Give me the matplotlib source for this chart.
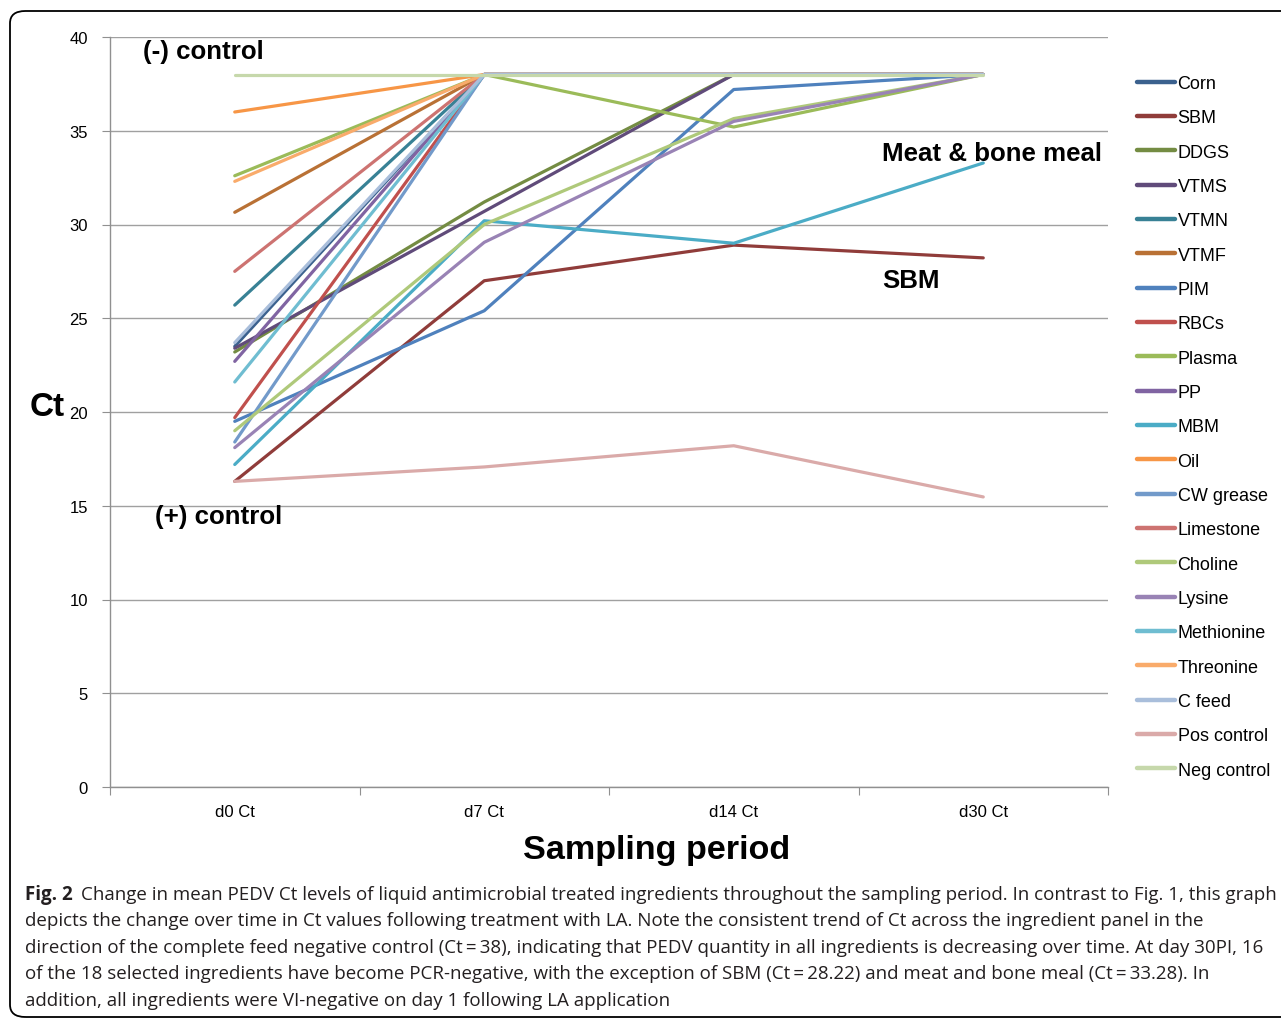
import matplotlib

matplotlib.use("Agg")
import matplotlib.pyplot as plt
from matplotlib.patches import FancyBboxPatch

# --- data ---
periods = ['d0 Ct', 'd7 Ct', 'd14 Ct', 'd30 Ct']
ingredients = ['Corn', 'SBM', 'DDGS', 'VTMS', 'VTMN', 'VTMF', 'PIM', 'RBCs',
               'Plasma', 'PP', 'MBM', 'Oil', 'CW grease', 'Limestone', 'Choline',
               'Lysine', 'Methionine', 'Threonine', 'C feed', 'Pos control',
               'Neg control']
corn = [23.5, 38, 38, 38]
sbm = [16.3, 27.0, 28.9, 28.22]
ddgs = [23.2, 31.2, 38, 38]
vtms = [23.4, 30.7, 38, 38]
vtmn = [25.7, 38, 38, 38]
vtmf = [30.65, 38, 38, 38]
pim = [19.5, 25.4, 37.2, 38]
rbcs = [19.7, 38, 38, 38]
plasma = [32.6, 38, 35.2, 38]
pp = [22.7, 38, 38, 38]
mbm = [17.2, 30.2, 29.0, 33.28]
oil = [36.0, 38, 38, 38]
cw_grease = [18.4, 38, 38, 38]
limestone = [27.5, 38, 38, 38]
choline = [19.0, 30.0, 35.65, 38]
lysine = [18.1, 29.05, 35.5, 38]
methionine = [21.6, 38, 38, 38]
threonine = [32.3, 38, 38, 38]
c_feed = [23.7, 38, 38, 38]
pos_control = [16.3, 17.07, 18.2, 15.47]
neg_control = [38, 38, 38, 38]

series = [corn, sbm, ddgs, vtms, vtmn, vtmf, pim, rbcs, plasma, pp, mbm, oil,
          cw_grease, limestone, choline, lysine, methionine, threonine, c_feed,
          pos_control, neg_control]

# Excel 2007 style palette: dark, base, light, very light
colors = ['#3B618E', '#903C3A', '#748C43', '#604B7A', '#388195', '#B97135',
          '#4F81BD', '#C0504D', '#9BBB59', '#8064A2', '#4BACC6', '#F79646',
          '#729ACA', '#CD7371', '#AFC97A', '#9983B5', '#6FBDD1', '#F9AB6B',
          '#A9BEDB', '#DAAAA9', '#C6D8AB']

caption_lines = [
    "Change in mean PEDV Ct levels of liquid antimicrobial treated ingredients throughout the sampling period. In contrast to Fig. 1, this graph",
    "depicts the change over time in Ct values following treatment with LA. Note the consistent trend of Ct across the ingredient panel in the",
    "direction of the complete feed negative control (Ct\u2009=\u200938), indicating that PEDV quantity in all ingredients is decreasing over time. At day 30PI, 16",
    "of the 18 selected ingredients have become PCR-negative, with the exception of SBM (Ct\u2009=\u200928.22) and meat and bone meal (Ct\u2009=\u200933.28). In",
    "addition, all ingredients were VI-negative on day 1 following LA application",
]

plt.rcParams['font.family'] = ['Liberation Sans', 'DejaVu Sans']

W, H = 1281, 1020
fig = plt.figure(figsize=(W / 100, H / 100), dpi=100)

# rounded frame around the figure panel
frame = FancyBboxPatch((10 / W, 2 / H), 1.2, 1 - 14 / H,
                       boxstyle="round,pad=0,rounding_size=0.012",
                       transform=fig.transFigure, fill=False,
                       edgecolor='black', linewidth=1.3)
fig.patches.append(frame)

ax = fig.add_axes([110 / W, 1 - 788 / H, 998 / W, 750 / H])
x = [i + 0.5 for i in range(len(periods))]
for name, vals, col in zip(ingredients, series, colors):
    ax.plot(x, vals, color=col, linewidth=2.3, label=name,
            solid_capstyle='round', solid_joinstyle='round')

ax.set_xlim(0, 4)
ax.set_ylim(0, 40)
ax.set_yticks(range(0, 41, 5))
ax.yaxis.grid(True, color='#A0A0A0', linewidth=1.0)
ax.set_axisbelow(True)
ax.set_xticks(range(0, 5))
ax.set_xticklabels([])
ax.set_xticks(x, minor=True)
ax.set_xticklabels(periods, minor=True)
ax.tick_params(axis='x', which='major', length=6, color='#909090', direction='out')
ax.tick_params(axis='x', which='minor', length=0, pad=12, labelsize=12)
ax.tick_params(axis='y', length=6, color='#909090', pad=10, labelsize=12)
for s in ['top', 'right']:
    ax.spines[s].set_visible(False)
for s in ['left', 'bottom']:
    ax.spines[s].set_color('#909090')
    ax.spines[s].set_linewidth(1.0)

# annotations
fig.text(143 / W, 1 - 52 / H, '(-) control', fontsize=18.6,
         fontweight='bold', va='center', ha='left')
fig.text(882 / W, 1 - 154 / H, 'Meat & bone meal', fontsize=18.6,
         fontweight='bold', va='center', ha='left')
fig.text(882 / W, 1 - 281 / H, 'SBM', fontsize=18.6, fontweight='bold',
         va='center', ha='left')
fig.text(155 / W, 1 - 517 / H, '(+) control', fontsize=18.6, fontweight='bold',
         va='center', ha='left')
fig.text(30 / W, 1 - 408 / H, 'Ct', fontsize=24, fontweight='bold',
         va='center', ha='left')
fig.text(657 / W, 1 - 851 / H, 'Sampling period', fontsize=24.6,
         fontweight='bold', va='center', ha='center')

leg = ax.legend(loc='upper left', bbox_to_anchor=(1137 / W, 1 - 76 / H),
                bbox_transform=fig.transFigure, frameon=False, fontsize=13,
                handlelength=2.1, handletextpad=0.15, labelspacing=0.96,
                borderpad=0, borderaxespad=0)
for ln in leg.get_lines():
    ln.set_linewidth(3.2)

# caption
cap_font = ['Open Sans', 'DejaVu Sans']
ys = [895, 921, 948, 974, 1001]
for i, (line, yy) in enumerate(zip(caption_lines, ys)):
    if i == 0:
        fig.text(25 / W, 1 - yy / H, 'Fig. 2', fontsize=13.5,
                 fontweight='bold', family=cap_font,
                 va='center', ha='left', color='#231F20')
        fig.text(81 / W, 1 - yy / H, line, fontsize=13.5, family=cap_font,
                 va='center', ha='left', color='#231F20')
    else:
        fig.text(25 / W, 1 - yy / H, line, fontsize=13.5, family=cap_font,
                 va='center', ha='left', color='#231F20')

fig.savefig('out.png', dpi=100)
